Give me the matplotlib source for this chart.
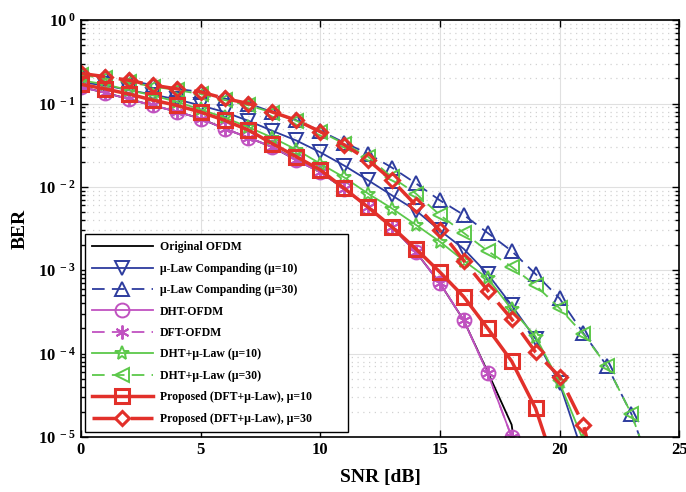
import numpy as np
import matplotlib.pyplot as plt
from matplotlib.ticker import LogLocator, NullFormatter

plt.rcParams['font.family'] = ['Liberation Serif', 'DejaVu Serif']
plt.rcParams['font.weight'] = 'bold'
plt.rcParams['mathtext.fontset'] = 'custom'
plt.rcParams['mathtext.rm'] = 'Liberation Serif:bold'
plt.rcParams['mathtext.it'] = 'Liberation Serif:bold'
plt.rcParams['mathtext.bf'] = 'Liberation Serif:bold'

# BER curves, one value per dB of SNR
snr = np.arange(0, 25)

ber_original = [0.158, 0.135, 0.113, 0.095, 0.080, 0.066, 0.050, 0.039, 0.030, 0.021,
                0.015, 0.0095, 0.0057, 0.0033, 0.00165, 7.0e-4, 2.5e-4, 6.0e-5, 1.4e-5, 1e-7]
ber_mu10 = [0.18, 0.165, 0.145, 0.128, 0.112, 0.095, 0.079, 0.062, 0.047, 0.036,
            0.026, 0.018, 0.012, 0.0079, 0.0052, 0.0030, 0.0018, 9.0e-4, 3.8e-4, 1.5e-4,
            4.4e-5, 6e-6]
ber_mu30 = [0.23, 0.21, 0.19, 0.166, 0.15, 0.138, 0.115, 0.10, 0.079, 0.063,
            0.047, 0.034, 0.025, 0.017, 0.011, 0.0069, 0.0046, 0.0028, 0.0017, 9.0e-4,
            4.6e-4, 1.75e-4, 7.0e-5, 1.9e-5, 3e-6]
ber_dht = [0.158, 0.135, 0.113, 0.095, 0.080, 0.066, 0.050, 0.039, 0.030, 0.021,
           0.015, 0.0095, 0.0057, 0.0033, 0.00165, 7.0e-4, 2.5e-4, 5.8e-5, 1.0e-5]
ber_dft = [0.158, 0.135, 0.113, 0.095, 0.080, 0.066, 0.050, 0.039, 0.030, 0.021,
           0.015, 0.0095, 0.0057, 0.0033, 0.00165, 7.0e-4, 2.5e-4, 5.8e-5, 1.0e-5]
ber_dht_mu10 = [0.19, 0.17, 0.145, 0.125, 0.105, 0.085, 0.068, 0.052, 0.039, 0.028,
                0.019, 0.013, 0.0083, 0.0055, 0.0035, 0.0022, 0.0013, 8.0e-4, 3.4e-4, 1.6e-4,
                4.5e-5, 9e-6]
ber_dht_mu30 = [0.22, 0.20, 0.18, 0.16, 0.145, 0.13, 0.11, 0.095, 0.078, 0.062,
                0.046, 0.033, 0.023, 0.013, 0.0083, 0.0046, 0.0028, 0.0017, 0.0011, 6.6e-4,
                3.5e-4, 1.7e-4, 7.0e-5, 1.9e-5, 3e-6]
ber_prop_mu10 = [0.17, 0.15, 0.13, 0.11, 0.095, 0.079, 0.063, 0.048, 0.033, 0.023,
                 0.016, 0.0096, 0.0057, 0.0033, 0.0018, 9.5e-4, 4.8e-4, 2.0e-4, 8.1e-5, 2.2e-5,
                 3e-6]
ber_prop_mu30 = [0.23, 0.21, 0.19, 0.166, 0.15, 0.138, 0.115, 0.10, 0.079, 0.063,
                 0.046, 0.032, 0.021, 0.012, 0.006, 0.003, 0.0013, 5.7e-4, 2.6e-4, 1.04e-4,
                 5.3e-5, 1.4e-5, 1e-6]

blue = '#2d3c9e'
magenta = '#c052c0'
green = '#5cc84a'
red = '#e2302a'
dash = (0, (7, 4))

series = [
    ('Original OFDM', ber_original, 'black', '-', None, 1.3),
    ('μ-Law Companding (μ=10)', ber_mu10, blue, '-', 'v', 1.3),
    ('μ-Law Companding (μ=30)', ber_mu30, blue, dash, '^', 1.3),
    ('DHT-OFDM', ber_dht, magenta, '-', 'o', 1.3),
    ('DFT-OFDM', ber_dft, magenta, dash, (6, 2, 0), 1.3),
    ('DHT+μ-Law (μ=10)', ber_dht_mu10, green, '-', '*', 1.3),
    ('DHT+μ-Law (μ=30)', ber_dht_mu30, green, dash, '<', 1.3),
    ('Proposed (DFT+μ-Law), μ=10', ber_prop_mu10, red, '-', 's', 2.5),
    ('Proposed (DFT+μ-Law), μ=30', ber_prop_mu30, red, dash, 'D', 2.5),
]

fig = plt.figure(figsize=(6.86, 4.92), dpi=100)
ax = fig.add_axes([0.118, 0.112, 0.872, 0.847])

for label, ber, color, ls, marker, lw in series:
    x = snr[:len(ber)]
    ms = 7.5 if marker == 'D' else 10
    ax.plot(x, ber, color=color, linestyle=ls, linewidth=lw, marker=marker,
            markersize=ms, markerfacecolor='none', markeredgecolor=color,
            markeredgewidth=1.4 if lw < 2 else 2.2, label=label)

ax.set_yscale('log')
ax.set_xlim(0, 25)
ax.set_ylim(1e-5, 1)
ax.set_xticks([0, 5, 10, 15, 20, 25])
ax.yaxis.set_minor_locator(LogLocator(base=10, subs=np.arange(2, 10), numticks=50))
ax.yaxis.set_minor_formatter(NullFormatter())
ax.set_yticks([1e-5, 1e-4, 1e-3, 1e-2, 1e-1, 1])
ax.set_yticklabels([r'$10^{\ -5}$', r'$10^{\ -4}$', r'$10^{\ -3}$', r'$10^{\ -2}$',
                    r'$10^{\ -1}$', r'$10^{\ 0}$'])

ax.grid(True, which='major', color='#e0e0e0', linewidth=0.8)
ax.grid(True, which='minor', axis='y', color='#d2d2d2', linestyle=(0, (1, 3.6)), linewidth=0.9)
ax.set_axisbelow(True)
ax.tick_params(which='both', direction='in', top=True, right=True, width=1)
ax.tick_params(which='major', length=5, labelsize=12)
ax.tick_params(which='minor', length=3)
for s in ax.spines.values():
    s.set_linewidth(1.2)

ax.set_xlabel('SNR [dB]', fontsize=14, fontweight='bold', labelpad=8)
ax.set_ylabel('BER', fontsize=14, fontweight='bold', labelpad=7)

# legend box stretched to the right, text stays left aligned
leg = ax.legend(loc='lower left', bbox_to_anchor=(0.006, 0.012, 0.44, 0.1), mode='expand',
                borderaxespad=0, fontsize=8.5, handlelength=5.2, handletextpad=0.6,
                labelspacing=0.8, fancybox=False, framealpha=1,
                edgecolor='black', borderpad=0.6)
leg.get_frame().set_linewidth(1.0)
for t in leg.get_texts():
    t.set_fontweight('bold')

fig.savefig('out.png', dpi=100)
